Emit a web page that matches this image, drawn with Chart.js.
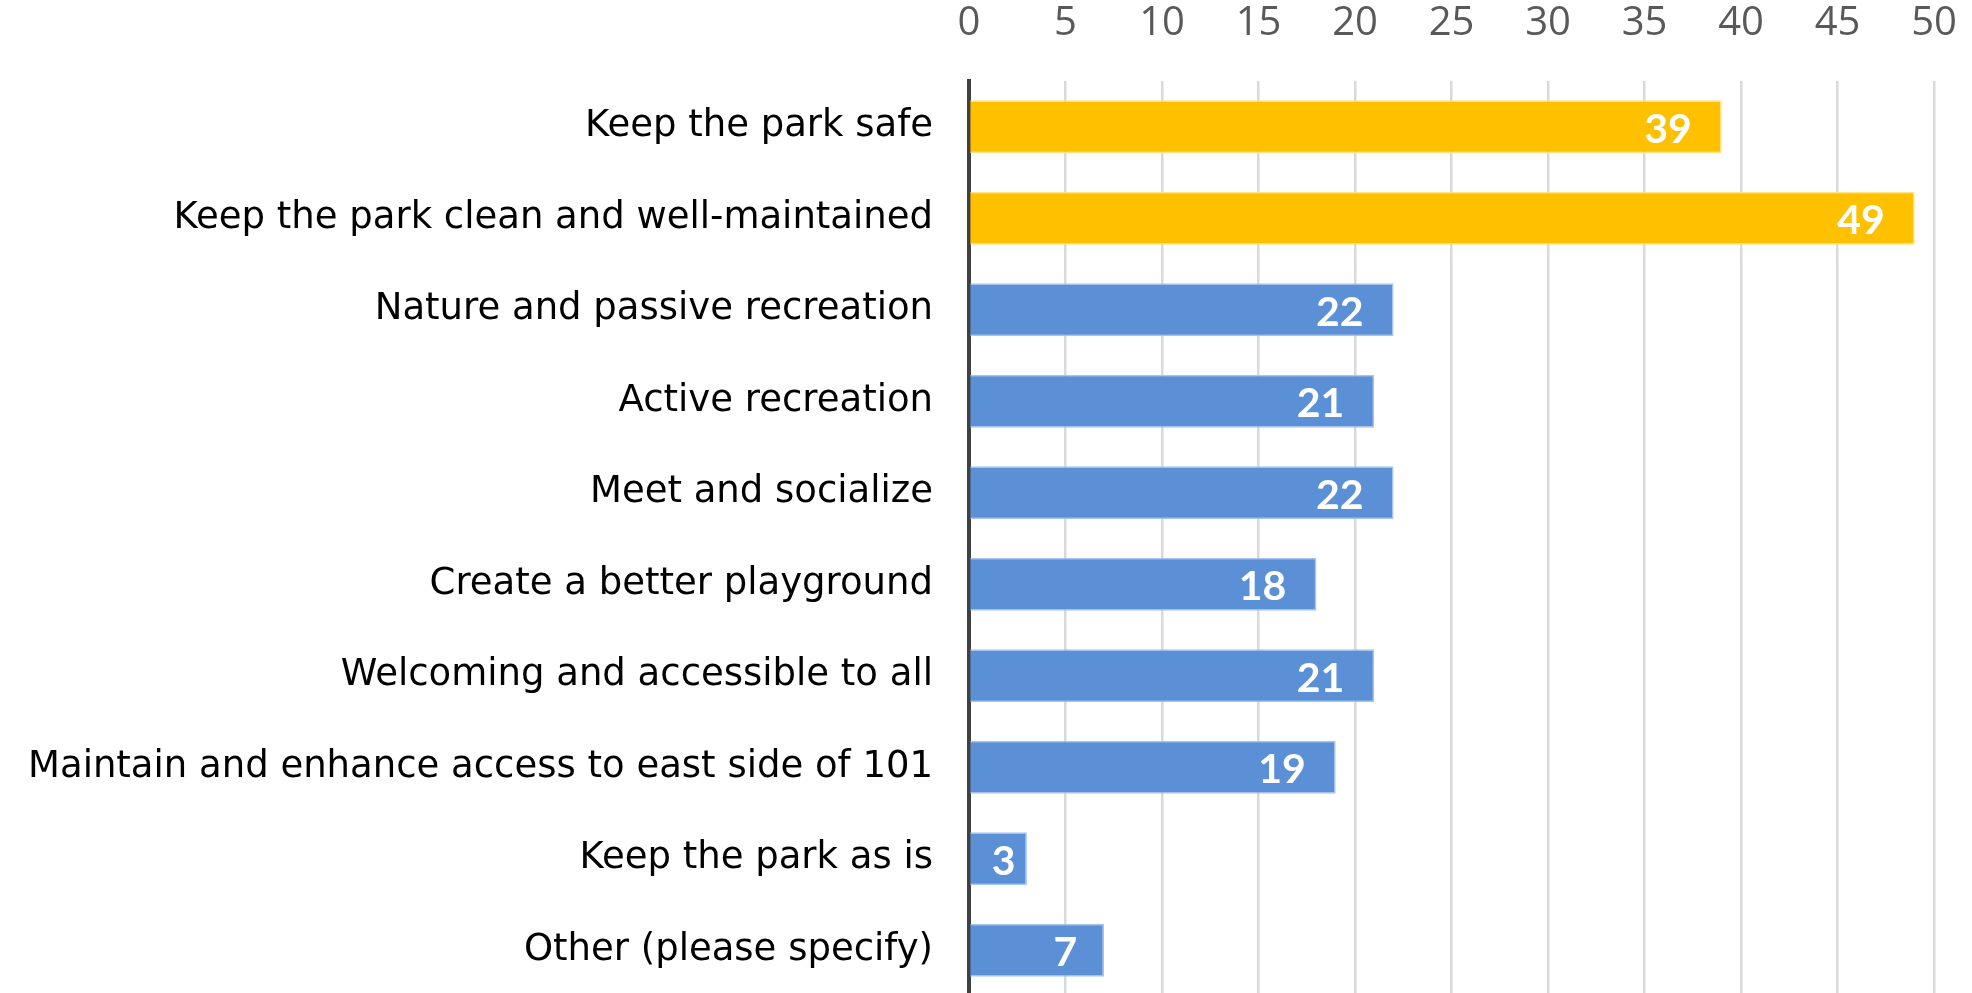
<!DOCTYPE html>
<html>
<head>
<meta charset="utf-8">
<script src="https://cdn.jsdelivr.net/npm/chart.js@4.4.0/dist/chart.umd.min.js"></script>
<style>
  html, body { margin: 0; padding: 0; background: #ffffff; overflow: hidden; }
  #wrap { position: relative; width: 1972px; height: 996px; }
</style>
</head>
<body>
<div id="wrap"><canvas id="c"></canvas></div>
<script>
const categories = [
  "Keep the park safe",
  "Keep the park clean and well-maintained",
  "Nature and passive recreation",
  "Active recreation",
  "Meet and socialize",
  "Create a better playground",
  "Welcoming and accessible to all",
  "Maintain and enhance access to east side of 101",
  "Keep the park as is",
  "Other (please specify)"
];
const values = [39, 49, 22, 21, 22, 18, 21, 19, 3, 7];
const barColors = ["#FFC000", "#FFC000", "#5B8FD6", "#5B8FD6", "#5B8FD6", "#5B8FD6", "#5B8FD6", "#5B8FD6", "#5B8FD6", "#5B8FD6"];
const borderColors = ["#FFE38A", "#FFE38A", "#A9C4EC", "#A9C4EC", "#A9C4EC", "#A9C4EC", "#A9C4EC", "#A9C4EC", "#A9C4EC", "#A9C4EC"];
const xMin = 0, xMax = 50, xStep = 5;

const labelPlugin = {
  id: 'barLabels',
  afterDatasetsDraw(chart) {
    const ctx = chart.ctx;
    const meta = chart.getDatasetMeta(0);
    ctx.save();
    ctx.font = 'bold 41px Lato, "Open Sans", sans-serif';
    ctx.fillStyle = '#ffffff';
    ctx.textAlign = 'right';
    ctx.textBaseline = 'middle';
    meta.data.forEach((el, i) => {
      const w = Math.abs(el.x - el.base);
      const gap = Math.min(30, 0.2 * w);
      ctx.fillText(String(values[i]), el.x - gap, el.y + 3);
    });
    ctx.restore();
  }
};

new Chart(document.getElementById('c'), {
  type: 'bar',
  data: {
    labels: categories,
    datasets: [{
      data: values,
      backgroundColor: barColors,
      borderColor: borderColors,
      borderWidth: 1.5,
      borderSkipped: 'start',
      categoryPercentage: 1,
      barPercentage: 0.58
    }]
  },
  options: {
    indexAxis: 'y',
    responsive: true,
    maintainAspectRatio: false,
    animation: false,
    layout: { padding: { left: 0, right: 38, top: 0, bottom: 0 } },
    plugins: {
      legend: { display: false },
      tooltip: { enabled: false }
    },
    scales: {
      x: {
        position: 'top',
        min: xMin,
        max: xMax,
        afterFit(s) { s.height = 81; s.paddingLeft = 0; s.paddingRight = 0; },
        ticks: {
          stepSize: xStep,
          color: '#595959',
          font: { family: '"Open Sans", Lato, sans-serif', size: 40 },
          padding: 33
        },
        grid: {
          color: '#d9d9d9',
          lineWidth: 2.5,
          drawTicks: false
        },
        border: { display: false }
      },
      y: {
        afterFit(s) { s.width = 969; s.paddingTop = 0; s.paddingBottom = 0; },
        ticks: {
          color: '#000000',
          font: { family: '"DejaVu Sans", sans-serif', size: 37 },
          padding: 36
        },
        grid: { display: false, drawTicks: false },
        border: { display: true, color: '#404040', width: 4 }
      }
    }
  },
  plugins: [labelPlugin]
});
</script>
</body>
</html>
